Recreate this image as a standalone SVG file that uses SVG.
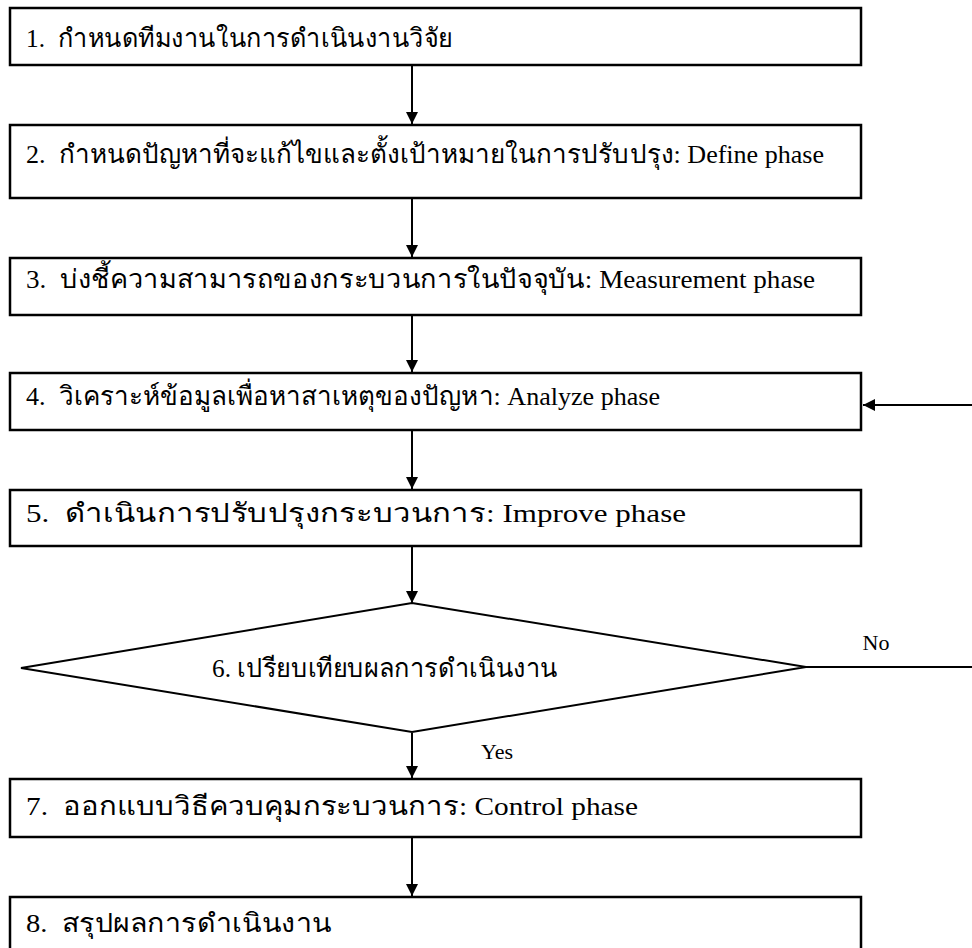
<svg xmlns="http://www.w3.org/2000/svg" width="972" height="948" viewBox="0 0 972 948">
  <style>
    .box { fill: #ffffff; stroke: #000000; stroke-width: 2.5; }
    .dia { fill: #ffffff; stroke: #000000; stroke-width: 2; }
    .lbl { font-family: "Liberation Serif", "Times New Roman", serif; font-size: 26px; fill: #000000; white-space: pre; }
    .sm { font-family: "Liberation Serif", "Times New Roman", serif; font-size: 22px; fill: #000000; }
    .conn { stroke: #000000; stroke-width: 2; fill: none; }
  </style>
  <defs>
    <marker id="arrow" viewBox="0 0 10 10" refX="10" refY="5" markerUnits="userSpaceOnUse" markerWidth="12" markerHeight="15" orient="auto">
      <path d="M0,0 L10,5 L0,10 Z" fill="#000000"/>
    </marker>
  </defs>
  <rect width="972" height="948" fill="#ffffff"/>

  <g id="connectors">
    <line class="conn" x1="412" y1="66" x2="412" y2="124" marker-end="url(#arrow)"/>
    <line class="conn" x1="412" y1="199" x2="412" y2="257" marker-end="url(#arrow)"/>
    <line class="conn" x1="412" y1="316" x2="412" y2="372" marker-end="url(#arrow)"/>
    <line class="conn" x1="412" y1="431" x2="412" y2="489" marker-end="url(#arrow)"/>
    <line class="conn" x1="412" y1="547" x2="412" y2="603" marker-end="url(#arrow)"/>
    <line class="conn" x1="412" y1="733" x2="412" y2="778" marker-end="url(#arrow)"/>
    <line class="conn" x1="412" y1="838" x2="412" y2="896" marker-end="url(#arrow)"/>
    <line class="conn" x1="806" y1="667" x2="972" y2="667"/>
    <line class="conn" x1="972" y1="405" x2="863" y2="405" marker-end="url(#arrow)"/>
    <text class="sm" x="876" y="650" text-anchor="middle">No</text>
    <text class="sm" x="497" y="759" text-anchor="middle">Yes</text>
  </g>

  <g id="step1">
    <rect class="box" x="10" y="8" width="851" height="57"/>
    <text class="lbl" x="26" y="47" xml:space="preserve" textLength="427" lengthAdjust="spacingAndGlyphs">1.  กำหนดทีมงานในการดำเนินงานวิจัย</text>
  </g>
  <g id="step2">
    <rect class="box" x="10" y="125" width="851" height="73"/>
    <text class="lbl" x="26" y="163" xml:space="preserve" textLength="798" lengthAdjust="spacingAndGlyphs">2.  กำหนดปัญหาที่จะแก้ไขและตั้งเป้าหมายในการปรับปรุง: Define phase</text>
  </g>
  <g id="step3">
    <rect class="box" x="10" y="258" width="851" height="57"/>
    <text class="lbl" x="26" y="288" xml:space="preserve" textLength="789" lengthAdjust="spacingAndGlyphs">3.  บ่งชี้ความสามารถของกระบวนการในปัจจุบัน: Measurement phase</text>
  </g>
  <g id="step4">
    <rect class="box" x="10" y="373" width="851" height="57"/>
    <text class="lbl" x="26" y="405" xml:space="preserve" textLength="634" lengthAdjust="spacingAndGlyphs">4.  วิเคราะห์ข้อมูลเพื่อหาสาเหตุของปัญหา: Analyze phase</text>
  </g>
  <g id="step5">
    <rect class="box" x="10" y="490" width="851" height="56"/>
    <text class="lbl" x="26" y="522" xml:space="preserve" textLength="660" lengthAdjust="spacingAndGlyphs">5.  ดำเนินการปรับปรุงกระบวนการ: Improve phase</text>
  </g>
  <g id="step6">
    <polygon class="dia" points="412,603 806,667 412,732 21,668"/>
    <text class="lbl" x="212" y="677" textLength="346" lengthAdjust="spacingAndGlyphs">6. เปรียบเทียบผลการดำเนินงาน</text>
  </g>
  <g id="step7">
    <rect class="box" x="10" y="779" width="851" height="58"/>
    <text class="lbl" x="26" y="815" xml:space="preserve" textLength="612" lengthAdjust="spacingAndGlyphs">7.  ออกแบบวิธีควบคุมกระบวนการ: Control phase</text>
  </g>
  <g id="step8">
    <path class="box" d="M10,960 L10,897 L861,897 L861,960"/>
    <text class="lbl" x="26" y="932" xml:space="preserve" textLength="306" lengthAdjust="spacingAndGlyphs">8.  สรุปผลการดำเนินงาน</text>
  </g>
</svg>
